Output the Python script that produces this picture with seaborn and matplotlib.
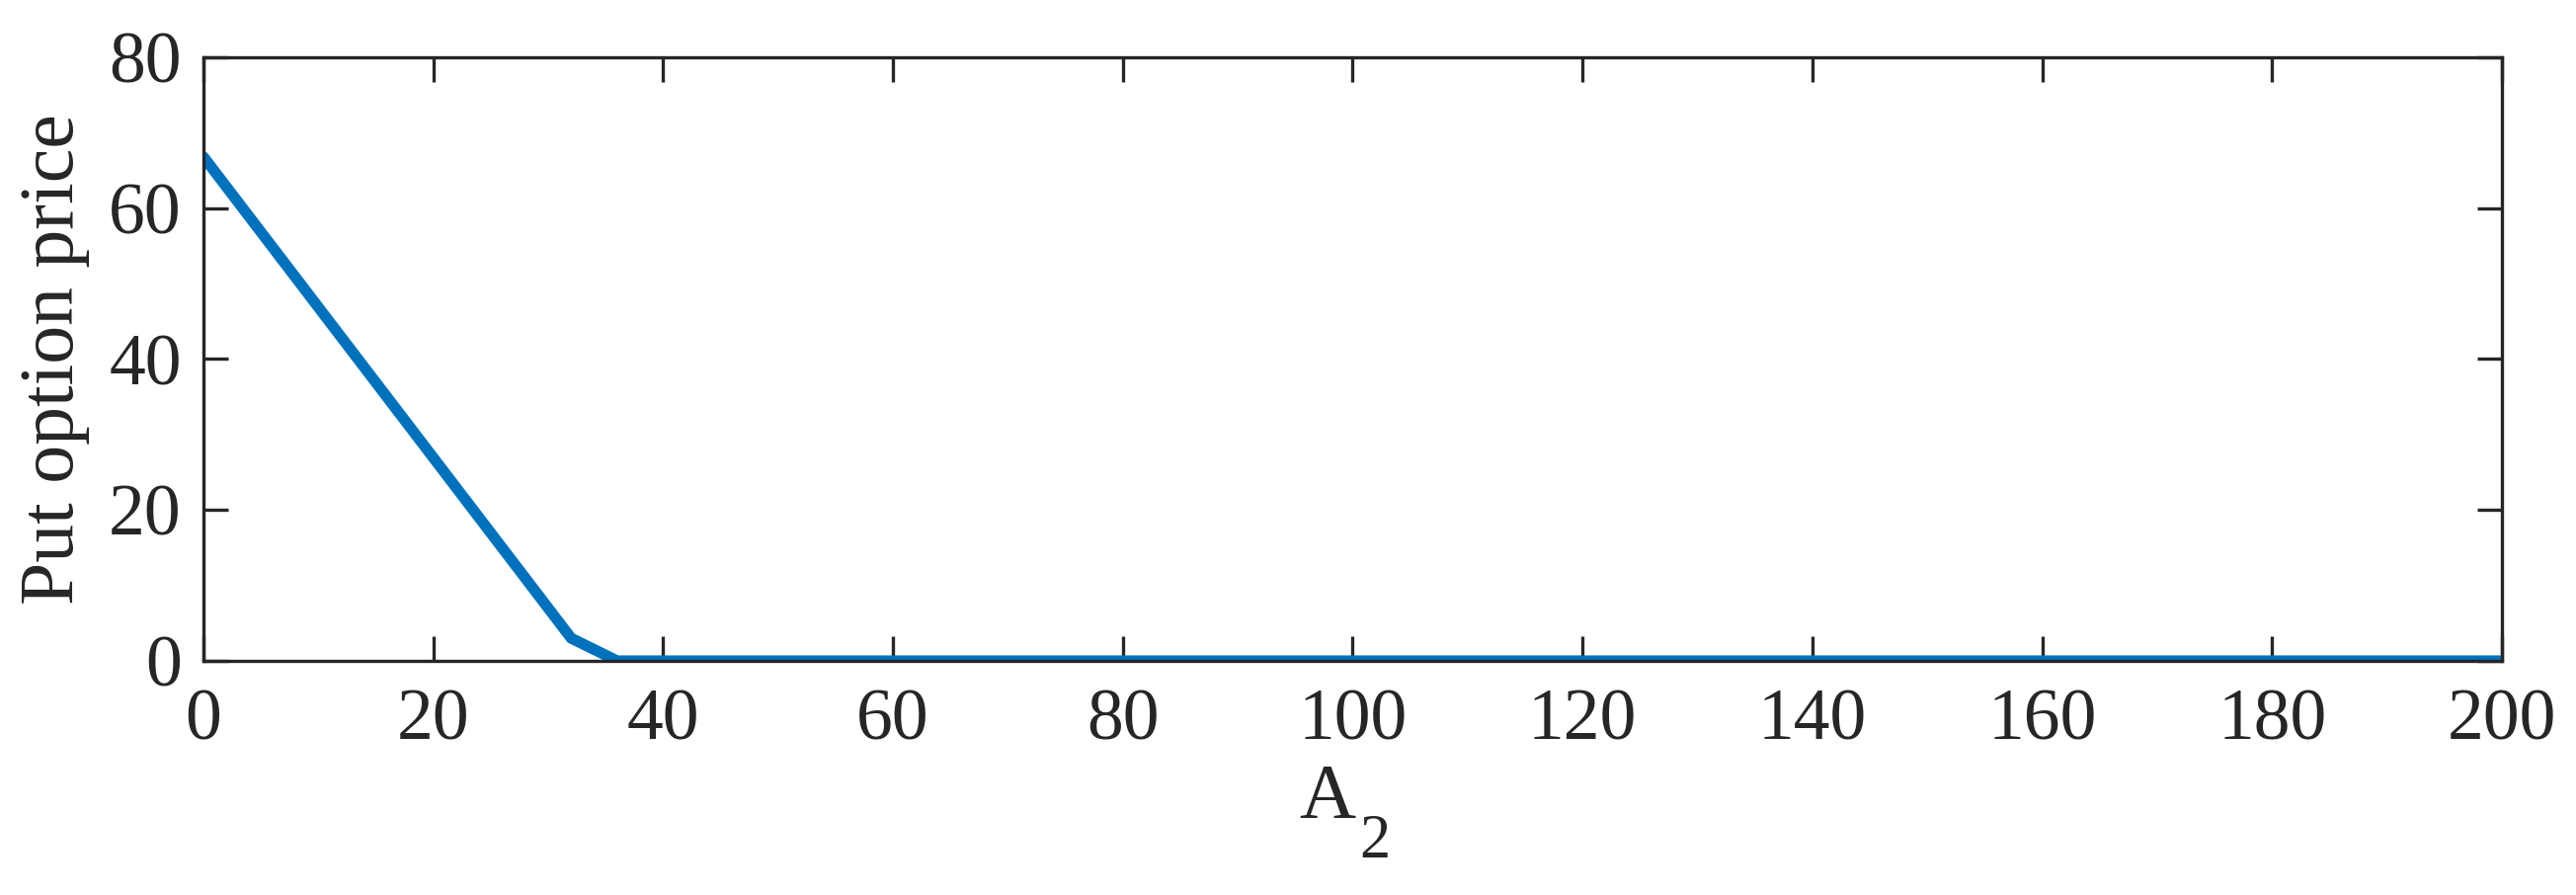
import numpy as np
import pandas as pd
import matplotlib
matplotlib.use("Agg")
from matplotlib import pyplot as plt
import seaborn as sns

# values (vertices of the piecewise line)
a2 = [0, 32, 36, 200]
put_price = [66.8, 3.0, 0.0, 0.0]
x_ticks = [0, 20, 40, 60, 80, 100, 120, 140, 160, 180, 200]
y_ticks = [0, 20, 40, 60, 80]

sns.set_theme(style="ticks")
plt.rcParams['font.family'] = ['Liberation Serif', 'DejaVu Serif']

dark = "#262626"
fig, ax = plt.subplots(figsize=(26.08, 9.06), dpi=100)
fig.subplots_adjust(left=0.079, right=0.9712, bottom=0.2616, top=0.936)

df = pd.DataFrame({"A2": a2, "price": put_price})
sns.lineplot(data=df, x="A2", y="price", ax=ax, color="#0072BD", linewidth=8)

ax.set_xlim(0, 200)
ax.set_ylim(0, 80)
ax.set_xticks(x_ticks)
ax.set_yticks(y_ticks)
ax.tick_params(direction="in", length=18, width=2.4, colors=dark,
               labelsize=53, top=True, right=True)
ax.tick_params(axis="x", pad=20)
ax.tick_params(axis="y", pad=16)
for sp in ax.spines.values():
    sp.set_visible(True)
    sp.set_linewidth(2.4)
    sp.set_color(dark)

# MATLAB-style subscript: big "2" hanging below the "A"
ax.set_xlabel("A", fontsize=57, color=dark, labelpad=6)
ax.xaxis.label.set_x(0.489)
ax.annotate("2", xy=(1, 0), xycoords=ax.xaxis.label, xytext=(4, 20),
            textcoords="offset pixels", ha="left", va="top",
            fontsize=45, color=dark)
ax.set_ylabel("Put option price", fontsize=56, color=dark, labelpad=14)

fig.savefig("out.png", dpi=100, facecolor="white")
